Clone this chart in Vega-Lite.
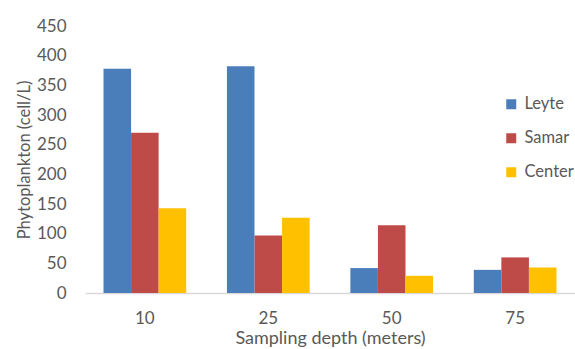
{
  "$schema": "https://vega.github.io/schema/vega-lite/v6.json",
  "width": 490,
  "height": 267,
  "autosize": {"type": "none"},
  "padding": {"left": 85, "top": 26, "right": 0, "bottom": 56},
  "background": "white",
  "config": {"view": {"stroke": null}, "font": "Lato"},
  "data": {
    "values": [
      {"depth": "10", "site": "Leyte", "value": 378},
      {"depth": "10", "site": "Samar", "value": 270},
      {"depth": "10", "site": "Center", "value": 143},
      {"depth": "25", "site": "Leyte", "value": 382},
      {"depth": "25", "site": "Samar", "value": 97},
      {"depth": "25", "site": "Center", "value": 127},
      {"depth": "50", "site": "Leyte", "value": 42},
      {"depth": "50", "site": "Samar", "value": 114},
      {"depth": "50", "site": "Center", "value": 29},
      {"depth": "75", "site": "Leyte", "value": 39},
      {"depth": "75", "site": "Samar", "value": 60},
      {"depth": "75", "site": "Center", "value": 43}
    ]
  },
  "mark": {"type": "bar"},
  "encoding": {
    "x": {
      "field": "depth",
      "type": "ordinal",
      "sort": ["10", "25", "50", "75"],
      "scale": {"paddingInner": 0.33, "paddingOuter": 0.15},
      "axis": {
        "title": "Sampling depth (meters)",
        "titleFontSize": 18,
        "titleFontWeight": "normal",
        "titleColor": "#595959",
        "titleBaseline": "alphabetic",
        "titleY": 50,
        "labelFontSize": 17,
        "labelColor": "#595959",
        "labelAngle": 0,
        "labelPadding": 17,
        "ticks": false,
        "domainColor": "#d9d9d9",
        "domainWidth": 1.5
      }
    },
    "xOffset": {
      "field": "site",
      "sort": ["Leyte", "Samar", "Center"],
      "scale": {"paddingInner": 0, "paddingOuter": 0}
    },
    "y": {
      "field": "value",
      "type": "quantitative",
      "scale": {"domain": [0, 450]},
      "axis": {
        "title": "Phytoplankton (cell/L)",
        "titleFontSize": 16.5,
        "titleFontWeight": "normal",
        "titleColor": "#595959",
        "titlePadding": 4,
        "labelFontSize": 17,
        "labelColor": "#595959",
        "labelPadding": 19,
        "values": [0, 50, 100, 150, 200, 250, 300, 350, 400, 450],
        "ticks": false,
        "domain": false,
        "grid": false
      }
    },
    "color": {
      "field": "site",
      "type": "nominal",
      "sort": ["Leyte", "Samar", "Center"],
      "scale": {"domain": ["Leyte", "Samar", "Center"], "range": ["#4a7ebb", "#be4b48", "#ffc000"]},
      "legend": {
        "title": null,
        "orient": "none",
        "legendX": 418,
        "legendY": 70,
        "symbolType": "square",
        "symbolSize": 100,
        "symbolStrokeWidth": 0,
        "labelFontSize": 16.5,
        "labelColor": "#595959",
        "labelOffset": 5,
        "rowPadding": 17
      }
    }
  }
}
